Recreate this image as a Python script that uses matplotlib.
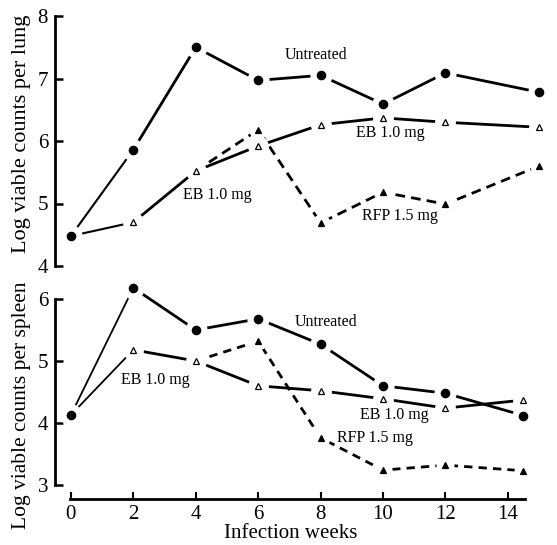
import matplotlib as mpl
mpl.use('Agg')
import matplotlib.pyplot as plt

plt.rcParams['font.family'] = ['Liberation Serif', 'DejaVu Serif']

# lung (top)
lung_weeks = [0, 2, 4, 6, 8, 10, 12, 15]
lung_untreated = [4.48, 5.86, 7.50, 6.97, 7.05, 6.59, 7.09, 6.78]
lung_eb = [4.48, 4.70, 5.52, 5.92, 6.26, 6.37, 6.30, 6.22]
lung_rfp_weeks = [4, 6, 8, 10, 12, 15]
lung_rfp = [5.52, 6.18, 4.69, 5.18, 4.99, 5.60]

# spleen (bottom)
spl_weeks = [0, 2, 4, 6, 8, 10, 12, 14.5]
spl_untreated = [4.13, 6.18, 5.50, 5.68, 5.27, 4.60, 4.48, 4.12]
spl_eb = [4.13, 5.18, 5.00, 4.60, 4.52, 4.39, 4.24, 4.37]
spl_rfp_weeks = [4, 6, 8, 10, 12, 14.5]
spl_rfp = [5.00, 5.32, 3.76, 3.24, 3.32, 3.23]

xticks = [0, 2, 4, 6, 8, 10, 12, 14]

W, H = 557, 545
fig = plt.figure(figsize=(W / 100, H / 100), dpi=100)

xlim = (-0.51, 15.35)
ax1 = fig.add_axes([55 / W, 1 - 266 / H, 495 / W, 250 / H])
ax2 = fig.add_axes([55 / W, 1 - 499 / H, 495 / W, 218.6 / H])


def draw(ax, x, y, ls='-', lw=2.0, first_lw=None):
    if first_lw is not None:
        ax.plot(x[:2], y[:2], color='black', lw=first_lw, ls=ls, zorder=2, clip_on=False)
        ax.plot(x[1:], y[1:], color='black', lw=lw, ls=ls, zorder=2, clip_on=False)
    else:
        ax.plot(x, y, color='black', lw=lw, ls=ls, zorder=2, clip_on=False)


def marks(ax, x, y, marker, ms, fill, halo):
    # white disc first so lines stop short of the symbol
    ax.plot(x, y, ls='none', marker='o', ms=halo, color='white',
            mec='white', zorder=3, clip_on=False)
    ax.plot(x, y, ls='none', marker=marker, ms=ms, mfc=fill, mec='black',
            mew=0.9, zorder=4, clip_on=False)


# top panel
draw(ax1, lung_weeks, lung_untreated, first_lw=1.5)
draw(ax1, lung_weeks, lung_eb, first_lw=1.5)
draw(ax1, lung_rfp_weeks, lung_rfp, ls=(0, (3.5, 2.2)))
marks(ax1, lung_weeks, lung_untreated, 'o', 6, 'black', 15)
marks(ax1, lung_weeks[1:], lung_eb[1:], '^', 4.5, 'white', 14)
marks(ax1, lung_rfp_weeks[1:], lung_rfp[1:], '^', 4.5, 'black', 12)

# bottom panel
draw(ax2, spl_weeks, spl_untreated, first_lw=1.3)
draw(ax2, spl_weeks, spl_eb, first_lw=1.3)
draw(ax2, spl_rfp_weeks, spl_rfp, ls=(0, (3, 2.2)))
marks(ax2, spl_weeks, spl_untreated, 'o', 6, 'black', 15)
marks(ax2, spl_weeks[1:], spl_eb[1:], '^', 4.5, 'white', 14)
marks(ax2, spl_rfp_weeks[1:], spl_rfp[1:], '^', 4.5, 'black', 12)

txt = dict(fontsize=11.5, ha='center', va='center')
ax1.text(7.85, 7.38, 'Untreated', **txt)
ax1.text(10.22, 6.13, 'EB 1.0 mg', **txt)
ax1.text(4.68, 5.14, 'EB 1.0 mg', **txt)
ax1.text(10.54, 4.80, 'RFP 1.5 mg', **txt)
ax2.text(8.17, 5.63, 'Untreated', **txt)
ax2.text(2.72, 4.69, 'EB 1.0 mg', **txt)
ax2.text(10.35, 4.13, 'EB 1.0 mg', **txt)
ax2.text(9.74, 3.76, 'RFP 1.5 mg', **txt)

for ax in (ax1, ax2):
    ax.set_xlim(*xlim)
    ax.patch.set_alpha(0)
    for s in ('top', 'right'):
        ax.spines[s].set_visible(False)
    ax.spines['left'].set_linewidth(2)
    ax.tick_params(axis='y', direction='in', length=6, width=1.8, labelsize=15, pad=5)

ax1.set_ylim(4, 8)
ax1.set_yticks([4, 5, 6, 7, 8])
ax1.spines['bottom'].set_visible(False)
ax1.set_xticks([])

ax2.set_ylim(2.774, 6.3)
ax2.set_yticks([3, 4, 5, 6])
ax2.spines['left'].set_bounds(3, 6)
ax2.spines['bottom'].set_bounds(-0.03, 14.55)
ax2.spines['bottom'].set_linewidth(2)
ax2.set_xticks(xticks)
ax2.tick_params(axis='x', direction='in', length=5, width=1.5, labelsize=15, pad=4)

fig.text(22 / W, 1 - 134 / H, 'Log viable counts per lung', fontsize=16,
         rotation=90, ha='center', va='center')
fig.text(22 / W, 1 - 405 / H, 'Log viable counts per spleen', fontsize=15.5,
         rotation=90, ha='center', va='center')
fig.text(291 / W, 1 - 533 / H, 'Infection weeks', fontsize=15, ha='center', va='center')

fig.savefig('out.png', dpi=100)
